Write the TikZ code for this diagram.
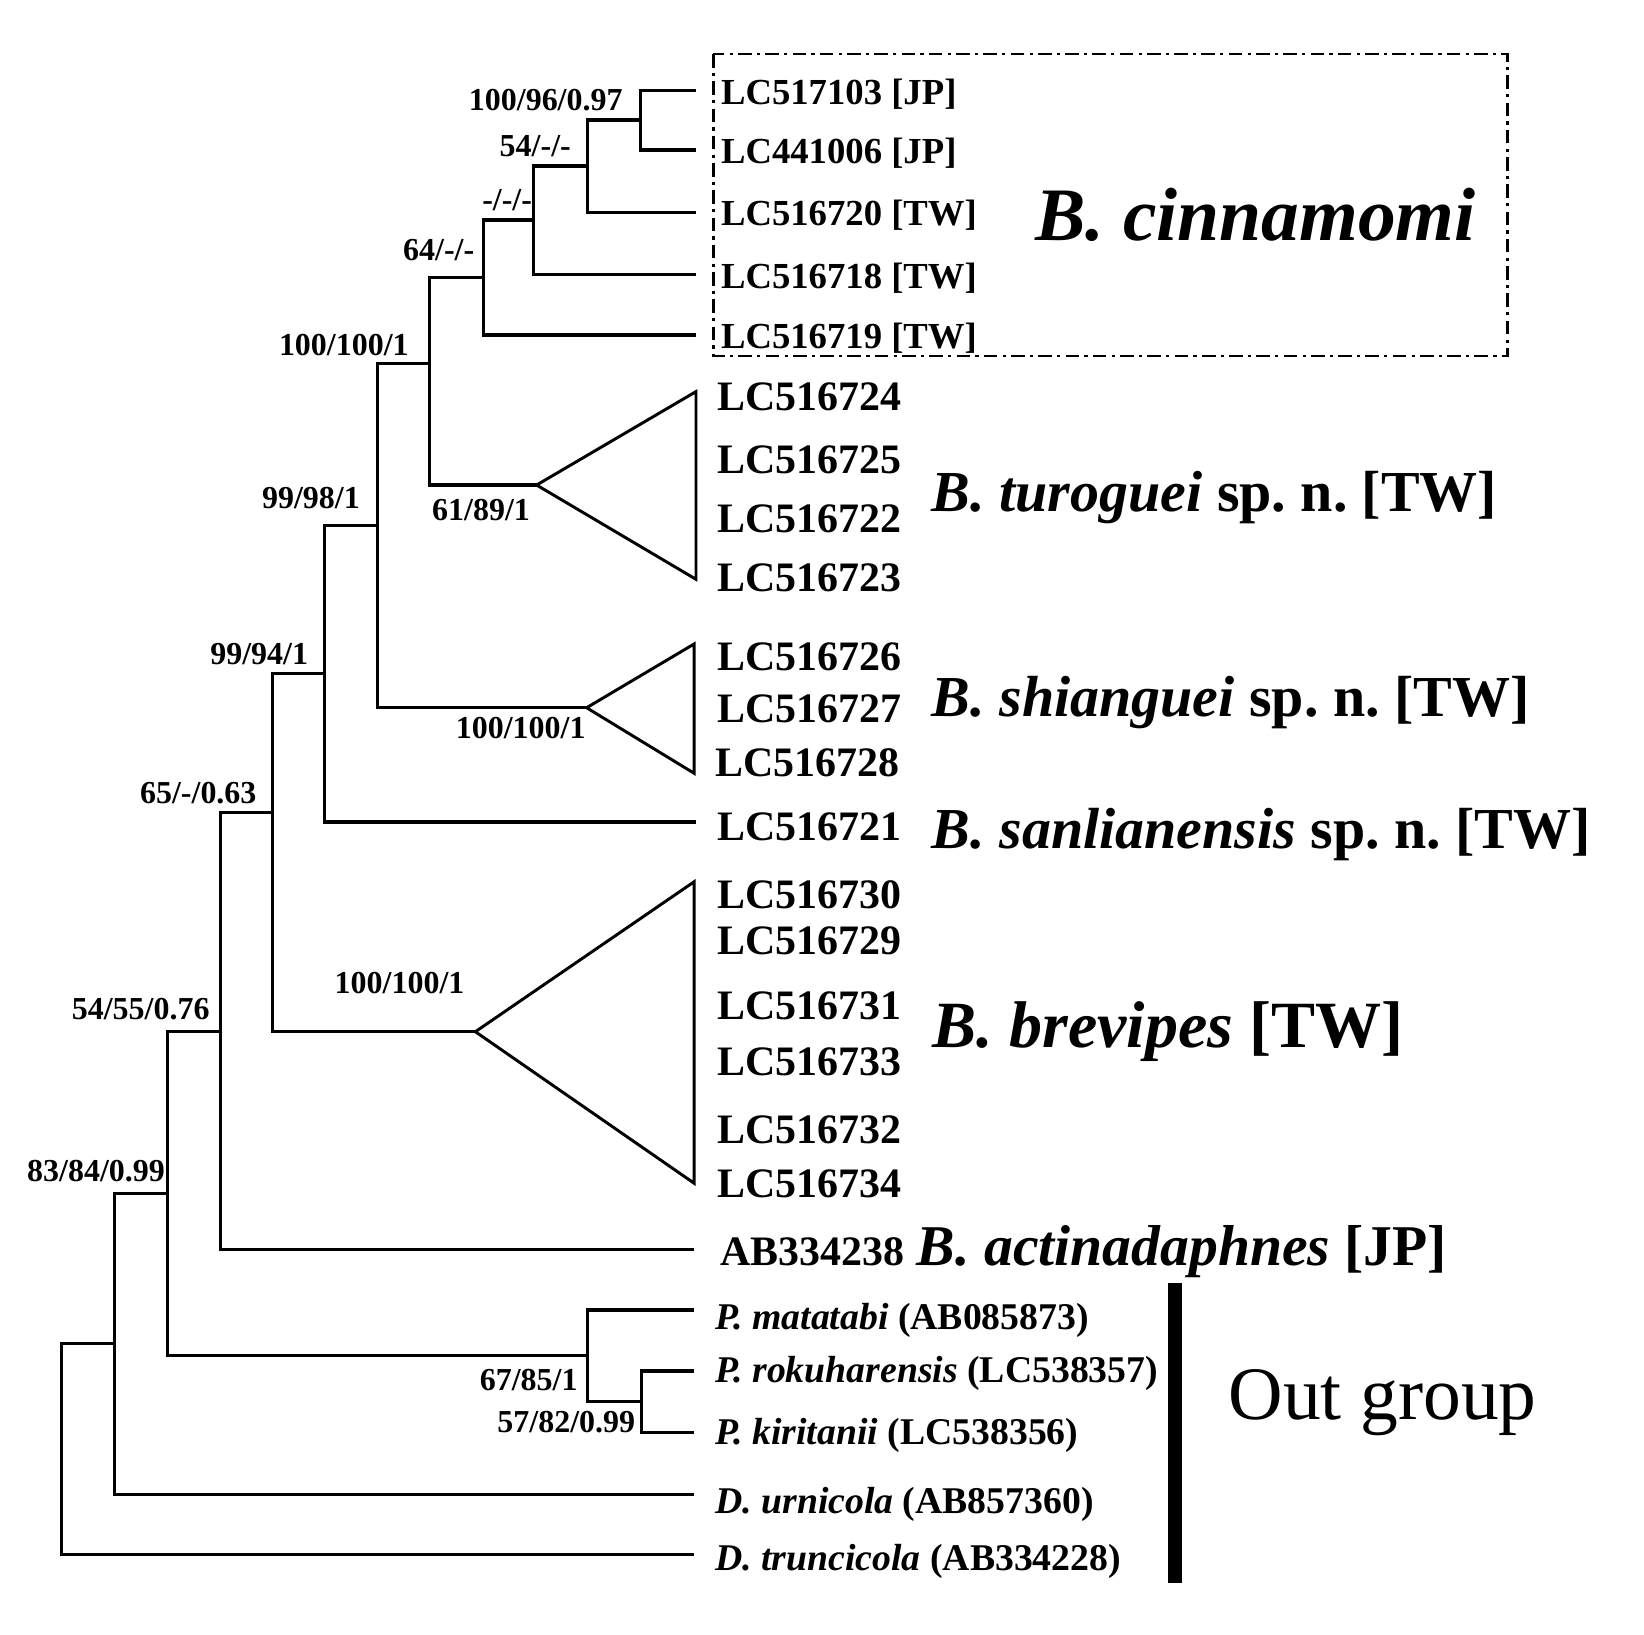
\documentclass[tikz,border=0pt]{standalone}
\usepackage{fontspec}
\setmainfont{Liberation Serif}
\newcommand\fsz[1]{\fontsize{#1}{#1}\selectfont}
\frenchspacing
\begin{document}
\begin{tikzpicture}[x=1pt,y=-1pt,
  br/.style={line width=3pt,line cap=rect},
  tri/.style={line width=2.8pt,line join=miter},
  sup/.style={inner sep=0pt,anchor=base east,font=\fsz{30.5}\bfseries},
  supl/.style={inner sep=0pt,anchor=base west,font=\fsz{30.5}\bfseries},
  leaf/.style={inner sep=0pt,anchor=base west,font=\fsz{40}\bfseries},
  cleaf/.style={inner sep=0pt,anchor=base west,font=\fsz{35}\bfseries},
  oleaf/.style={inner sep=0pt,anchor=base west,font=\fsz{36}\bfseries},
  big/.style={inner sep=0pt,anchor=base west,font=\fsz{55.3}\bfseries}]
\useasboundingbox (0,0) rectangle (1568,1559);
% internal nodes
\coordinate (v1) at (58.4,1381);
\coordinate (v2) at (109.5,1281);
\coordinate (v3) at (159.7,1138);
\coordinate (v4) at (210,984);
\coordinate (v5) at (259.7,774.7);
\coordinate (v6) at (309.3,642.2);
\coordinate (v7) at (360.2,501.3);
\coordinate (v8) at (410,346.5);
\coordinate (v9) at (461,264.8);
\coordinate (v10) at (509,209.8);
\coordinate (v11) at (560,158.3);
\coordinate (v12) at (611,114.5);
\coordinate (p1) at (560.6,1293);
\coordinate (p2) at (611.7,1336.8);
% leaf ends
\coordinate (l517103) at (662,86.5);
\coordinate (l441006) at (662,143);
\coordinate (l516720) at (662,202.5);
\coordinate (l516718) at (662,261.7);
\coordinate (l516719) at (662,319.5);
\coordinate (tur) at (511.8,462.6);
\coordinate (shi) at (559.5,675);
\coordinate (bre) at (453.4,984);
\coordinate (l516721) at (662,784);
\coordinate (lAB) at (660.5,1192);
\coordinate (lmat) at (660.5,1249.4);
\coordinate (lrok) at (660.5,1307.6);
\coordinate (lkir) at (660.5,1366.4);
\coordinate (lurn) at (660.5,1425);
\coordinate (ltru) at (660.5,1482.4);
% branches
\draw[br] (v1) |- (v2);  \draw[br] (v1) |- (ltru);
\draw[br] (v2) |- (v3);  \draw[br] (v2) |- (lurn);
\draw[br] (v3) |- (v4);  \draw[br] (v3) |- (p1);
\draw[br] (v4) |- (v5);  \draw[br] (v4) |- (lAB);
\draw[br] (v5) |- (v6);  \draw[br] (v5) |- (bre);
\draw[br] (v6) |- (v7);  \draw[br] (v6) |- (l516721);
\draw[br] (v7) |- (v8);  \draw[br] (v7) |- (shi);
\draw[br] (v8) |- (v9);  \draw[br] (v8) |- (tur);
\draw[br] (v9) |- (v10); \draw[br] (v9) |- (l516719);
\draw[br] (v10) |- (v11); \draw[br] (v10) |- (l516718);
\draw[br] (v11) |- (v12); \draw[br] (v11) |- (l516720);
\draw[br] (v12) |- (l517103); \draw[br] (v12) |- (l441006);
\draw[br] (p1) |- (lmat); \draw[br] (p1) |- (p2);
\draw[br] (p2) |- (lrok); \draw[br] (p2) |- (lkir);
% collapsed clades
\draw[tri] (tur) -- (663.8,373.5) -- (663.8,552.5) -- cycle;
\draw[tri] (shi) -- (662,614.2) -- (662,737.5) -- cycle;
\draw[tri] (bre) -- (662,841) -- (662,1128.5) -- cycle;
% cinnamomi box
\draw[line width=2.4pt,dash pattern=on 13pt off 5pt on 3pt off 5pt] (680.3,51.5) rectangle (1437.6,339.5);
% outgroup bar
\fill (1113.6,1223.3) rectangle (1127.6,1509.5);
% support values
\node[sup] (s1) at (594,105) {100/96/0.97};
\node[sup] (s2) at (544.6,149.4) {54/-/-};
\node[sup] (s3) at (507.6,201) {-/-/-};
\node[sup] (s4) at (452.5,248.6) {64/-/-};
\node[sup] (s5) at (390,339) {100/100/1};
\node[supl] (s6) at (412,496) {61/89/1};
\node[sup] (s7) at (343.4,484.8) {99/98/1};
\node[supl] (s8) at (434.6,704.8) {100/100/1};
\node[sup] (s9) at (294,634.2) {99/94/1};
\node[sup] (s10) at (244.8,766.8) {65/-/0.63};
\node[supl] (s11) at (319,948) {100/100/1};
\node[sup] (s12) at (200,972.2) {54/55/0.76};
\node[sup] (s13) at (157.5,1127) {83/84/0.99};
\node[sup] (s14) at (551,1326.3) {67/85/1};
\node[sup] (s15) at (606,1366.4) {57/82/0.99};
% cinnamomi leaves
\node[cleaf] (t1) at (687.5,99.5) {LC517103 [JP]};
\node[cleaf] (t2) at (687.5,156) {LC441006 [JP]};
\node[cleaf] (t3) at (687.5,215.5) {LC516720 [TW]};
\node[cleaf] (t4) at (687.5,274.7) {LC516718 [TW]};
\node[cleaf] (t5) at (687.5,332.5) {LC516719 [TW]};
% clade leaves
\node[leaf] (t6) at (684,391.2) {LC516724};
\node[leaf] (t7) at (684,451.2) {LC516725};
\node[leaf] (t8) at (684,508.2) {LC516722};
\node[leaf] (t9) at (684,564.2) {LC516723};
\node[leaf] (t10) at (684,639.2) {LC516726};
\node[leaf] (t11) at (684,689.2) {LC516727};
\node[leaf] (t12) at (682,740.2) {LC516728};
\node[leaf] (t13) at (684,801.2) {LC516721};
\node[leaf] (t14) at (684,866.2) {LC516730};
\node[leaf] (t15) at (684,910.2) {LC516729};
\node[leaf] (t16) at (684,972.2) {LC516731};
\node[leaf] (t17) at (684,1026.2) {LC516733};
\node[leaf] (t18) at (684,1090.2) {LC516732};
\node[leaf] (t19) at (684,1142.2) {LC516734};
\node[leaf] (t20) at (686.7,1206.5) {AB334238};
% outgroup leaves
\node[oleaf] (o1) at (682,1267.9) {\textit{P. matatabi} (AB085873)};
\node[oleaf] (o2) at (682,1318.7) {\textit{P. rokuharensis} (LC538357)};
\node[oleaf] (o3) at (682,1378) {\textit{P. kiritanii} (LC538356)};
\node[oleaf] (o4) at (682,1443.3) {\textit{D. urnicola} (AB857360)};
\node[oleaf] (o5) at (682,1497.4) {\textit{D. truncicola} (AB334228)};
% species names
\node[big,font=\fsz{72}\bfseries\itshape] (n1) at (987,229) {B. cinnamomi};
\node[big] (n2) at (888.6,488) {\textit{B. turoguei} sp. n. [TW]};
\node[big] (n3) at (888.6,683) {\textit{B. shianguei} sp. n. [TW]};
\node[big] (n4) at (888.6,809) {\textit{B. sanlianensis} sp. n. [TW]};
\node[big,font=\fsz{63}\bfseries] (n5) at (889,999) {\textit{B. brevipes} [TW]};
\node[big,font=\fsz{55}\bfseries] (n6) at (874.3,1206.5) {\textit{B. actinadaphnes} [JP]};
\node[big,font=\fsz{72}] (n7) at (1171.5,1354.3) {Out group};
\end{tikzpicture}
\end{document}
